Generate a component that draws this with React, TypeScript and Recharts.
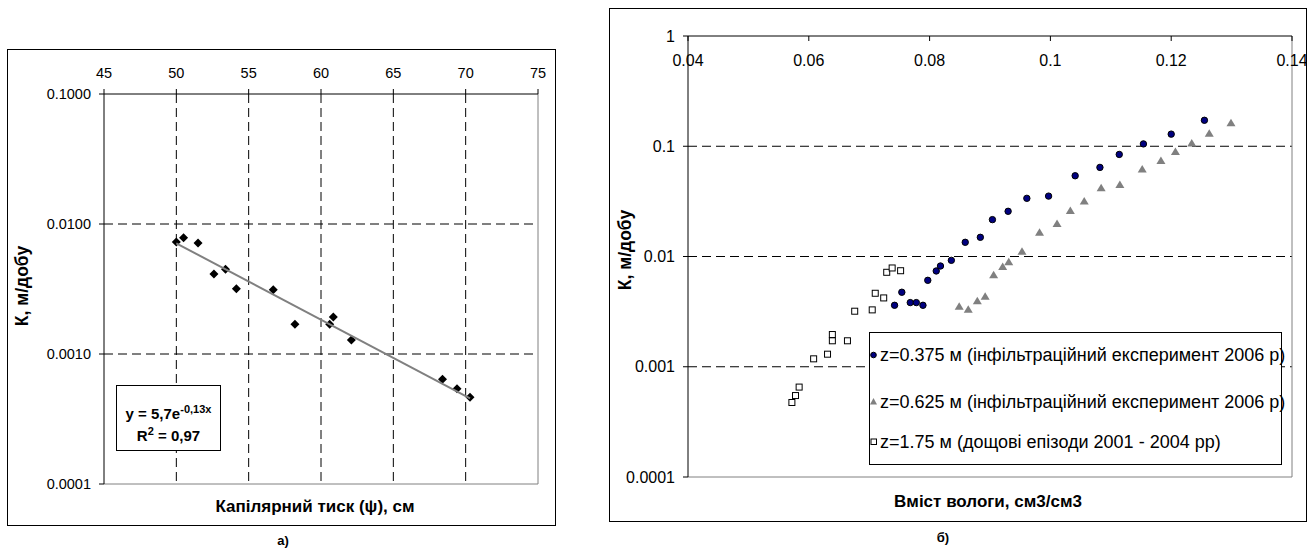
import React from 'react';
import { ScatterChart, Scatter, XAxis, YAxis, ReferenceLine } from 'recharts';

// ---------- Chart a) ----------
const PSI = [50.0, 50.5, 51.5, 52.6, 53.4, 54.15, 56.7, 58.2, 60.6, 60.85, 62.1, 68.4, 69.4, 70.3];
const K_PSI = [0.00727, 0.00785, 0.00714, 0.00412, 0.00448, 0.00318, 0.00312, 0.00169, 0.00169, 0.00193, 0.00128, 0.000638, 0.000541, 0.000465];
const TREND_PSI = [50, 70.3];
const TREND_K = [0.0071, 0.000456];
const PSI_TICKS = [45, 50, 55, 60, 65, 70, 75];
const PSI_GRID = [50, 55, 60, 65, 70];
const KA_TICKS = [0.0001, 0.001, 0.01, 0.1];
const KA_GRID = [0.001, 0.01];

// ---------- Chart б) ----------
const THETA_375 = [0.0742, 0.0754, 0.0768, 0.0778, 0.0789, 0.0797, 0.0811, 0.0818, 0.0836, 0.0859, 0.0884, 0.0904, 0.0930, 0.0961, 0.0997, 0.1041, 0.1082, 0.1114, 0.1154, 0.1200, 0.1255];
const K_375 = [0.00361, 0.00474, 0.00382, 0.00382, 0.00361, 0.00608, 0.00739, 0.0082, 0.00923, 0.01345, 0.01493, 0.0216, 0.0257, 0.0337, 0.0353, 0.054, 0.0643, 0.0843, 0.105, 0.1288, 0.172];
const THETA_625 = [0.0849, 0.0864, 0.0879, 0.0892, 0.0906, 0.0921, 0.0931, 0.0953, 0.0982, 0.1011, 0.1033, 0.1056, 0.1084, 0.1115, 0.1152, 0.1183, 0.1207, 0.1234, 0.1263, 0.1299];
const K_625 = [0.00351, 0.00328, 0.00393, 0.00432, 0.00676, 0.00803, 0.00886, 0.01104, 0.0164, 0.0197, 0.0258, 0.0316, 0.0415, 0.0445, 0.0616, 0.0733, 0.0889, 0.106, 0.1295, 0.162];
const THETA_175 = [0.0572, 0.0578, 0.0584, 0.0608, 0.0631, 0.0639, 0.0639, 0.0664, 0.0676, 0.0705, 0.0710, 0.0724, 0.0729, 0.0738, 0.0752];
const K_175 = [0.000474, 0.000548, 0.000654, 0.00118, 0.0013, 0.00172, 0.00196, 0.00172, 0.00319, 0.00328, 0.00464, 0.00421, 0.00719, 0.00787, 0.00743];
const THETA_TICKS = [0.04, 0.06, 0.08, 0.1, 0.12, 0.14];
const KB_TICKS = [0.0001, 0.001, 0.01, 0.1, 1];
const KB_GRID = [0.001, 0.01, 0.1];
const LEGEND_LABELS = [
  'z=0.375 м (інфільтраційний експеримент 2006 р)',
  'z=0.625 м (інфільтраційний експеримент 2006 р)',
  'z=1.75 м (дощові епізоди 2001 - 2004 рр)',
];

const zip = (xs: number[], ys: number[]) => xs.map((x, i) => ({ x, y: ys[i] }));
const dataA = zip(PSI, K_PSI);
const trendA = zip(TREND_PSI, TREND_K);
const data375 = zip(THETA_375, K_375);
const data625 = zip(THETA_625, K_625);
const data175 = zip(THETA_175, K_175);

const FONT = '"Liberation Sans", Arial, sans-serif';
const GRID_DASH = '9 5';

const Diamond = (p: any) => {
  const { cx, cy } = p;
  const r = 4.5;
  return <polygon points={`${cx},${cy - r} ${cx + r},${cy} ${cx},${cy + r} ${cx - r},${cy}`} fill="#000" />;
};
const Dot = (p: any) => <circle cx={p.cx} cy={p.cy} r={3.2} fill="#000080" stroke="#000" strokeWidth={1} />;
const Tri = (p: any) => {
  const { cx, cy } = p;
  return <polygon points={`${cx},${cy - 4.5} ${cx + 4.5},${cy + 3} ${cx - 4.5},${cy + 3}`} fill="#808080" />;
};
const Sq = (p: any) => <rect x={p.cx - 3} y={p.cy - 3} width={6} height={6} fill="#fff" stroke="#000" strokeWidth={1} />;
const NoShape = () => <g />;

const TopInsideTick = (p: any) => {
  const { x, y, payload } = p;
  return (
    <g>
      <line x1={x} y1={y} x2={x} y2={y + 5} stroke="#000" />
      <text x={x} y={y + 24} textAnchor="middle" dominantBaseline="central" fontSize={16} fill="#000" fontFamily={FONT}>
        {String(payload.value)}
      </text>
    </g>
  );
};

const supStyle: React.CSSProperties = { fontSize: 11, lineHeight: 0, verticalAlign: '0.55em' };

export default function App() {
  return (
    <div style={{ position: 'absolute', left: 0, top: 0, width: 1315, height: 549, background: '#fff', fontFamily: FONT, color: '#000', overflow: 'hidden' }}>
      {/* ---------- a) ---------- */}
      <div style={{ position: 'absolute', left: 7, top: 49, width: 549, height: 477, border: '1px solid #000', boxSizing: 'border-box' }} />
      <div style={{ position: 'absolute', left: 7, top: 49 }}>
        <ScatterChart width={549} height={477} margin={{ top: 15, right: 18, bottom: 42, left: 37 }}>
          <XAxis
            type="number"
            dataKey="x"
            orientation="top"
            height={30}
            domain={[45, 75]}
            ticks={PSI_TICKS}
            allowDataOverflow
            axisLine={{ stroke: '#000' }}
            tickLine={{ stroke: '#000' }}
            tickSize={5}
            tickMargin={11}
            tick={{ fontSize: 14.5, fill: '#000', fontFamily: FONT }}
          />
          <YAxis
            type="number"
            dataKey="y"
            scale="log"
            width={60}
            domain={[0.0001, 0.1]}
            ticks={KA_TICKS}
            allowDataOverflow
            axisLine={{ stroke: '#000' }}
            tickLine={{ stroke: '#000' }}
            tickSize={5}
            tickMargin={8}
            tickFormatter={(v: number) => v.toFixed(4)}
            tick={{ fontSize: 14.5, fill: '#000', fontFamily: FONT }}
          />
          {PSI_GRID.map((v) => (
            <ReferenceLine key={'vx' + v} x={v} stroke="#000" strokeDasharray={GRID_DASH} />
          ))}
          {KA_GRID.map((v) => (
            <ReferenceLine key={'hy' + v} y={v} stroke="#000" strokeDasharray={GRID_DASH} />
          ))}
          <ReferenceLine x={75} stroke="#808080" />
          <ReferenceLine y={0.0001} stroke="#808080" />
          <Scatter data={dataA} shape={Diamond} isAnimationActive={false} />
          <Scatter data={trendA} shape={NoShape} line={{ stroke: '#808080', strokeWidth: 2 }} isAnimationActive={false} />
        </ScatterChart>
      </div>
      <div style={{ position: 'absolute', left: 116, top: 385, width: 105, height: 66, border: '1px solid #000', boxSizing: 'border-box', background: '#fff', fontWeight: 'bold', fontSize: 15 }}>
        <div style={{ position: 'absolute', left: 0, width: '100%', top: 28 - 12, height: 24, lineHeight: '24px', textAlign: 'center', whiteSpace: 'nowrap' }}>
          y = 5,7e<sup style={supStyle}>-0,13x</sup>
        </div>
        <div style={{ position: 'absolute', left: 0, width: '100%', top: 50 - 12, height: 24, lineHeight: '24px', textAlign: 'center', whiteSpace: 'nowrap' }}>
          R<sup style={supStyle}>2</sup> = 0,97
        </div>
      </div>
      <div style={{ position: 'absolute', left: 315, top: 507, transform: 'translate(-50%, -50%)', fontWeight: 'bold', fontSize: 17, whiteSpace: 'nowrap' }}>
        Капілярний тиск (ψ), см
      </div>
      <div style={{ position: 'absolute', left: 22, top: 286, transform: 'translate(-50%, -50%) rotate(-90deg)', fontWeight: 'bold', fontSize: 17.5, whiteSpace: 'nowrap' }}>
        К, м/добу
      </div>
      <div style={{ position: 'absolute', left: 283, top: 541, transform: 'translate(-50%, -50%)', fontWeight: 'bold', fontSize: 13, lineHeight: '14px', whiteSpace: 'nowrap' }}>
        а)
      </div>

      {/* ---------- б) ---------- */}
      <div style={{ position: 'absolute', left: 609, top: 8, width: 698, height: 514, border: '1px solid #000', boxSizing: 'border-box' }} />
      <div style={{ position: 'absolute', left: 609, top: 8 }}>
        <ScatterChart width={698} height={514} margin={{ top: 8, right: 15, bottom: 45, left: 19 }}>
          <XAxis
            type="number"
            dataKey="x"
            orientation="top"
            height={20}
            domain={[0.04, 0.14]}
            ticks={THETA_TICKS}
            allowDataOverflow
            axisLine={{ stroke: '#000' }}
            tickLine={false}
            tickSize={0}
            tickMargin={0}
            tick={<TopInsideTick />}
          />
          <YAxis
            type="number"
            dataKey="y"
            scale="log"
            width={60}
            domain={[0.0001, 1]}
            ticks={KB_TICKS}
            allowDataOverflow
            axisLine={{ stroke: '#000' }}
            tickLine={{ stroke: '#000' }}
            tickSize={5}
            tickMargin={8}
            tickFormatter={(v: number) => String(v)}
            tick={{ fontSize: 16, fill: '#000', fontFamily: FONT }}
          />
          {KB_GRID.map((v) => (
            <ReferenceLine key={'hb' + v} y={v} stroke="#000" strokeDasharray={GRID_DASH} />
          ))}
          <ReferenceLine x={0.14} stroke="#808080" />
          <ReferenceLine y={0.0001} stroke="#808080" />
          <Scatter data={data175} shape={Sq} isAnimationActive={false} />
          <Scatter data={data625} shape={Tri} isAnimationActive={false} />
          <Scatter data={data375} shape={Dot} isAnimationActive={false} />
        </ScatterChart>
      </div>
      <div style={{ position: 'absolute', left: 869, top: 332, width: 413, height: 133, border: '1px solid #000', boxSizing: 'border-box', background: '#fff' }}>
        {LEGEND_LABELS.map((lab, i) => {
          const cy = [22, 69, 109][i];
          return (
            <div key={lab} style={{ position: 'absolute', left: 0, top: cy - 11, height: 22, display: 'flex', alignItems: 'center', whiteSpace: 'nowrap', fontSize: 18 }}>
              <svg width={8} height={12} style={{ marginLeft: 0, marginRight: 2 }}>
                {i === 0 && <circle cx={3.5} cy={6} r={2.8} fill="#000080" stroke="#000" />}
                {i === 1 && <polygon points="3.5,2 7,8.5 0,8.5" fill="#808080" />}
                {i === 2 && <rect x={1} y={3} width={5.5} height={5.5} fill="#fff" stroke="#000" />}
              </svg>
              <span>{lab}</span>
            </div>
          );
        })}
      </div>
      <div style={{ position: 'absolute', left: 988, top: 502, transform: 'translate(-50%, -50%)', fontWeight: 'bold', fontSize: 17, whiteSpace: 'nowrap' }}>
        Вміст вологи, см3/см3
      </div>
      <div style={{ position: 'absolute', left: 625, top: 250, transform: 'translate(-50%, -50%) rotate(-90deg)', fontWeight: 'bold', fontSize: 17.5, whiteSpace: 'nowrap' }}>
        К, м/добу
      </div>
      <div style={{ position: 'absolute', left: 943, top: 538, transform: 'translate(-50%, -50%)', fontWeight: 'bold', fontSize: 13, lineHeight: '14px', whiteSpace: 'nowrap' }}>
        б)
      </div>
    </div>
  );
}
